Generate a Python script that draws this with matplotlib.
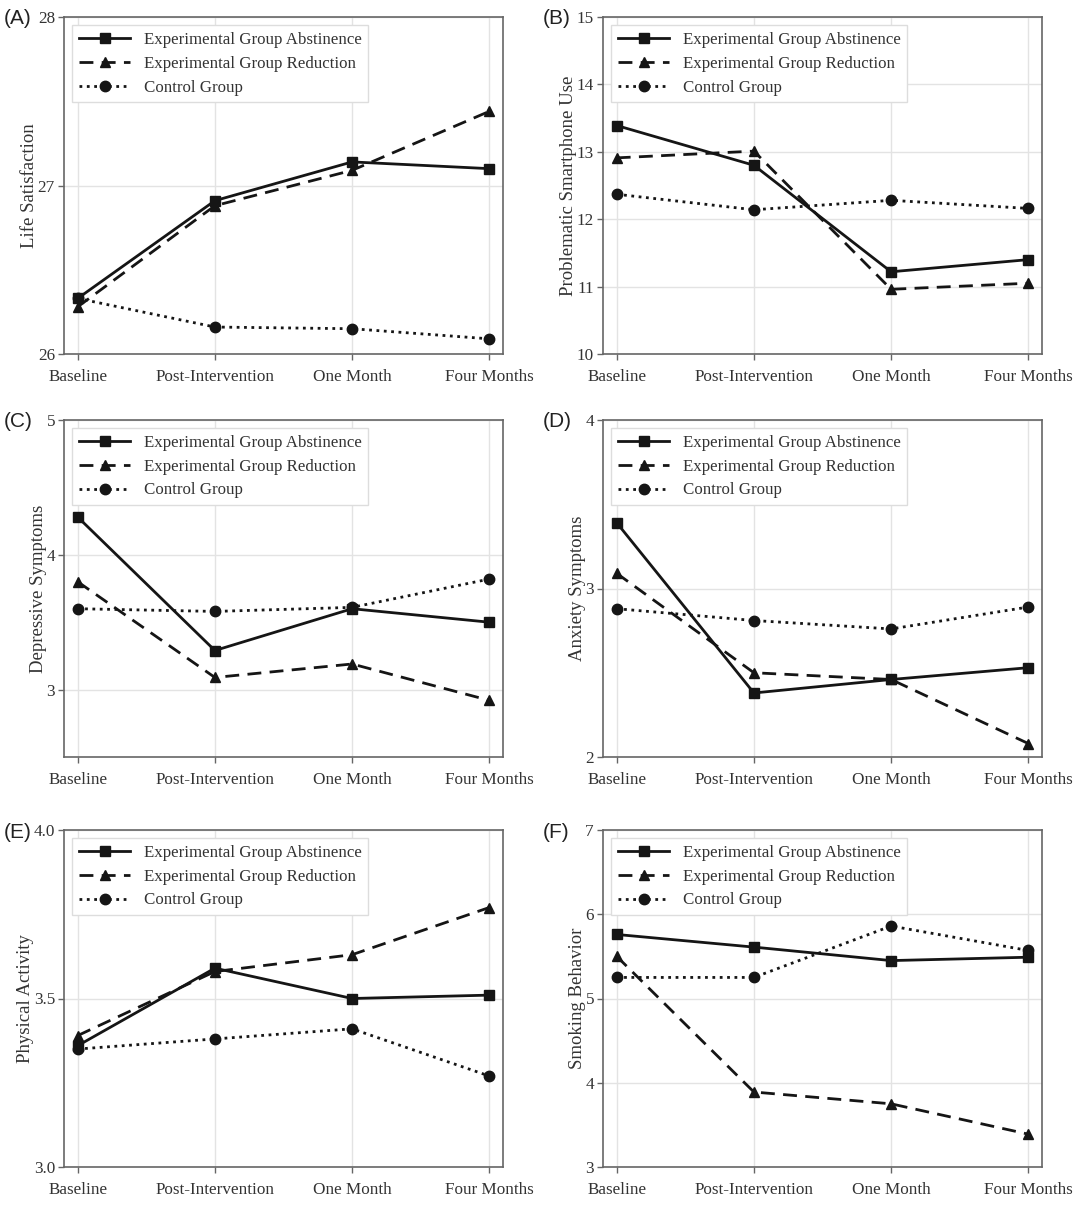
import matplotlib
matplotlib.use("Agg")
import matplotlib.pyplot as plt
import numpy as np

plt.rcParams['font.family'] = ['Liberation Serif', 'DejaVu Serif']

timepoints = ["Baseline", "Post-Intervention", "One Month", "Four Months"]
series_names = ["Experimental Group Abstinence", "Experimental Group Reduction", "Control Group"]

life_abst = [26.33, 26.91, 27.14, 27.10]
life_red = [26.28, 26.88, 27.09, 27.44]
life_ctrl = [26.33, 26.16, 26.15, 26.09]

psu_abst = [13.39, 12.80, 11.22, 11.40]
psu_red = [12.91, 13.01, 10.96, 11.05]
psu_ctrl = [12.37, 12.14, 12.28, 12.16]

dep_abst = [4.28, 3.29, 3.60, 3.50]
dep_red = [3.80, 3.09, 3.19, 2.92]
dep_ctrl = [3.60, 3.58, 3.61, 3.82]

anx_abst = [3.39, 2.38, 2.46, 2.53]
anx_red = [3.09, 2.50, 2.46, 2.08]
anx_ctrl = [2.88, 2.81, 2.76, 2.89]

pa_abst = [3.36, 3.59, 3.50, 3.51]
pa_red = [3.39, 3.58, 3.63, 3.77]
pa_ctrl = [3.35, 3.38, 3.41, 3.27]

smk_abst = [5.76, 5.61, 5.45, 5.49]
smk_red = [5.50, 3.89, 3.75, 3.39]
smk_ctrl = [5.25, 5.25, 5.86, 5.57]

panels = [
    ("(A)", "Life Satisfaction", [life_abst, life_red, life_ctrl], (26, 28), [26, 27, 28], ["26", "27", "28"]),
    ("(B)", "Problematic Smartphone Use", [psu_abst, psu_red, psu_ctrl], (10, 15), [10, 11, 12, 13, 14, 15], ["10", "11", "12", "13", "14", "15"]),
    ("(C)", "Depressive Symptoms", [dep_abst, dep_red, dep_ctrl], (2.5, 5), [3, 4, 5], ["3", "4", "5"]),
    ("(D)", "Anxiety Symptoms", [anx_abst, anx_red, anx_ctrl], (2, 4), [2, 3, 4], ["2", "3", "4"]),
    ("(E)", "Physical Activity", [pa_abst, pa_red, pa_ctrl], (3.0, 4.0), [3.0, 3.5, 4.0], ["3.0", "3.5", "4.0"]),
    ("(F)", "Smoking Behavior", [smk_abst, smk_red, smk_ctrl], (3, 7), [3, 4, 5, 6, 7], ["3", "4", "5", "6", "7"]),
]

styles = [dict(linestyle='-', marker='s'),
          dict(linestyle=(0, (5, 3)), marker='^'),
          dict(linestyle=':', marker='o')]

W, H = 1080, 1208
fig = plt.figure(figsize=(W / 100, H / 100), dpi=100)

lefts = [64, 603]
tops = [17, 420, 830]
aw, ah = 439, 337

x = np.arange(len(timepoints))
text_col = '#333333'
spine_col = '#666666'

for i, (lab, ylab, data, ylim, yticks, yticklabels) in enumerate(panels):
    r, c = divmod(i, 2)
    l = lefts[c]
    t = tops[r]
    ax = fig.add_axes([l / W, (H - t - ah) / H, aw / W, ah / H])
    for vals, name, st in zip(data, series_names, styles):
        ax.plot(x, vals, color='#151515', linewidth=2.0, markersize=7.5, label=name, **st)
    ax.set_xlim(-0.1, 3.1)
    ax.set_ylim(*ylim)
    ax.set_yticks(yticks)
    ax.set_yticklabels(yticklabels)
    ax.set_xticks(x)
    ax.set_xticklabels(timepoints)
    ax.grid(True, color='#e3e3e3', linewidth=1.0)
    ax.set_axisbelow(True)
    for s in ax.spines.values():
        s.set_color(spine_col)
        s.set_linewidth(1.2)
    ax.tick_params(axis='both', colors=spine_col, labelcolor=text_col, labelsize=12.3, length=4, width=1.0)
    ax.tick_params(axis='x', pad=6.5)
    ax.tick_params(axis='y', pad=2.5)
    ax.set_ylabel(ylab, fontsize=13.5, color=text_col, labelpad=-0.5)
    leg = ax.legend(loc='upper left', fontsize=12.2, handlelength=3.0, frameon=True,
                    fancybox=False, edgecolor='#dddddd', framealpha=1.0,
                    borderaxespad=0.5, labelspacing=0.45)
    for txt in leg.get_texts():
        txt.set_color(text_col)
    fig.text((l - 60) / W, (H - t - 2) / H, lab, fontsize=15, family=['Liberation Sans', 'DejaVu Sans'],
             color='#222222', ha='left', va='center')

fig.savefig("out.png", dpi=100)
